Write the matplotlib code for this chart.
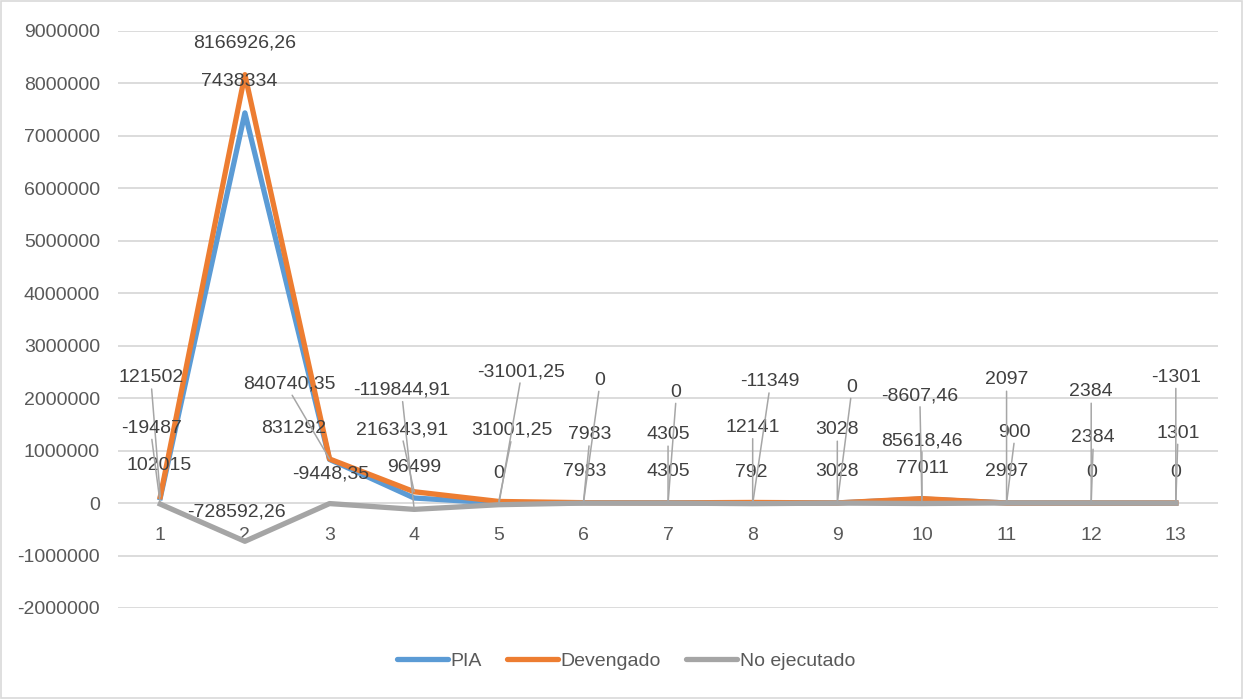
import numpy as np
import matplotlib.pyplot as plt
from matplotlib.patches import Rectangle

plt.rcParams['font.family'] = ['Liberation Sans', 'DejaVu Sans']

# Data
categorias = list(range(1, 14))
pia = [102015, 7438334, 831292, 96499, 0, 7983, 4305, 792, 3028, 77011, 2997, 0, 0]
devengado = [121502, 8166926.26, 840740.35, 216343.91, 31001.25, 7983, 4305, 12141,
             3028, 85618.46, 900, 2384, 1301]
no_ejecutado = [-19487, -728592.26, -9448.35, -119844.91, -31001.25, 0, 0, -11349,
                0, -8607.46, 2097, 2384, -1301]

# label offsets in pixels (dx, dy) -- layout only
off_pia = [(-1, 32), (-6, 31), (-36, 31), (0, 31), (0, 30), (1, 31), (0, 31),
           (-1, 31), (0, 31), (0, 31), (0, 31), (0, 31), (0, 31)]
off_dev = [(-9, 119), (0, 32), (-40, 75), (-12, 62), (13, 71), (6, 68), (0, 68),
           (0, 75), (0, 73), (0, 58), (8, 71), (2, 65), (2, 70)]
off_noe = [(-9, 76), (-8, 29), (1, 30), (-12, 119), (22, 133), (16, 123), (8, 111),
           (17, 122), (14, 116), (-2, 108), (0, 123), (0, 111), (0, 126)]

def fmt(v):
    if float(v).is_integer():
        return str(int(v))
    return f"{v:.2f}".replace('.', ',')

fs = 14
fig = plt.figure(figsize=(12.43, 6.99), dpi=100)
ax = fig.add_axes([0.0949, 0.1302, 0.8851, 0.8255])

c_pia, c_dev, c_noe = '#5B9BD5', '#ED7D31', '#A5A5A5'
lw = 3.8
ax.plot(categorias, pia, color=c_pia, lw=lw, solid_joinstyle='round', label='PIA', zorder=3)
ax.plot(categorias, devengado, color=c_dev, lw=lw, solid_joinstyle='round', label='Devengado', zorder=4)
ax.plot(categorias, no_ejecutado, color=c_noe, lw=lw, solid_joinstyle='round', label='No ejecutado', zorder=5)

ax.set_xlim(0.5, 13.5)
ax.set_ylim(-2000000, 9000000)
yt = np.arange(-2000000, 9000001, 1000000)
ax.set_yticks(yt)
ax.set_yticklabels([str(int(t)) for t in yt])
ax.set_xticks([])
ax.tick_params(axis='y', length=0, pad=13, labelsize=fs, labelcolor='#595959')
ax.grid(axis='y', color='#D9D9D9', lw=1.3)
ax.set_axisbelow(True)
for s in ax.spines.values():
    s.set_visible(False)

for c in categorias:
    ax.annotate(str(c), xy=(c, 0), xytext=(0, -32), textcoords='offset pixels',
                ha='center', va='center', fontsize=fs, color='#595959')

def etiquetas(vals, offs):
    for c, v, (dx, dy) in zip(categorias, vals, offs):
        ap = None
        if dy > 40:
            ap = dict(arrowstyle='-', color='#A6A6A6', lw=1.1, shrinkA=0, shrinkB=0,
                      relpos=(0.5, 0.1))
        ax.annotate(fmt(v), xy=(c, v), xytext=(dx, dy), textcoords='offset pixels',
                    ha='center', va='center', fontsize=fs, color='#404040',
                    arrowprops=ap, zorder=6)

etiquetas(pia, off_pia)
etiquetas(devengado, off_dev)
etiquetas(no_ejecutado, off_noe)

leg = ax.legend(loc='center', bbox_to_anchor=(0.462, -0.092), ncol=3, frameon=False,
                fontsize=fs, handlelength=2.6, handletextpad=0.15, columnspacing=1.3)
for t in leg.get_texts():
    t.set_color('#595959')
for h in leg.get_lines():
    h.set_solid_capstyle('round')

fig.patches.append(Rectangle((0.001, 0.001), 0.998, 0.997, transform=fig.transFigure,
                             fill=False, edgecolor='#D9D9D9', lw=1.2))

fig.savefig('out.png', dpi=100)
